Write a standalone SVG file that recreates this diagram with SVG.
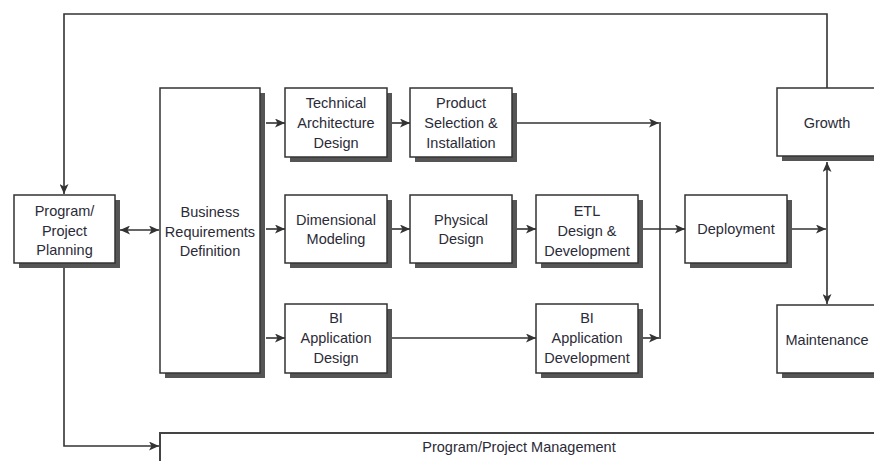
<svg xmlns="http://www.w3.org/2000/svg" width="874" height="461" viewBox="0 0 874 461">
<style>
.box{fill:#fff;stroke:#333;stroke-width:1.5}
.sh{fill:#555}
.t{font-family:"Liberation Sans",Arial,sans-serif;font-size:14.5px;fill:#2b2b38;text-anchor:middle}
.c{fill:none;stroke:#333;stroke-width:1.6}
</style>
<defs>
<marker id="ah" markerUnits="userSpaceOnUse" markerWidth="11" markerHeight="9" refX="10" refY="4.5" orient="auto-start-reverse">
<path d="M0,0 L10,4.5 L0,9 L2.5,4.5 z" fill="#333"/>
</marker>
</defs>
<rect width="874" height="461" fill="#fff"/>
<g id="connectors">
<path class="c" d="M827,88 V14 H64 V194" marker-end="url(#ah)"/>
<path class="c" d="M64,267 V446 H159" marker-end="url(#ah)"/>
<path class="c" d="M120,230 H159" marker-start="url(#ah)" marker-end="url(#ah)"/>
<path class="c" d="M266,123 H285" marker-end="url(#ah)"/>
<path class="c" d="M266,229 H285" marker-end="url(#ah)"/>
<path class="c" d="M266,338 H285" marker-end="url(#ah)"/>
<path class="c" d="M392,123 H410" marker-end="url(#ah)"/>
<path class="c" d="M392,229 H410" marker-end="url(#ah)"/>
<path class="c" d="M517,229 H536" marker-end="url(#ah)"/>
<path class="c" d="M392,338 H536" marker-end="url(#ah)"/>
<path class="c" d="M517,123 H659" marker-end="url(#ah)"/>
<path class="c" d="M643,338 H659" marker-end="url(#ah)"/>
<path class="c" d="M660,122 V339"/>
<path class="c" d="M643,229 H685" marker-end="url(#ah)"/>
<path class="c" d="M792,229 H826" marker-end="url(#ah)"/>
<path class="c" d="M827,229 V162" marker-end="url(#ah)"/>
<path class="c" d="M827,229 V304" marker-end="url(#ah)"/>
</g>
<g id="planning">
<rect class="sh" x="19" y="200" width="101" height="68"/>
<rect class="box" x="14" y="195" width="101" height="68"/>
<text class="t" x="64.5" y="216">Program/</text>
<text class="t" x="64.5" y="236">Project</text>
<text class="t" x="64.5" y="255">Planning</text>
</g>
<g id="brd">
<rect class="sh" x="165" y="93" width="100" height="285"/>
<rect class="box" x="160" y="88" width="100" height="285"/>
<text class="t" x="210" y="217">Business</text>
<text class="t" x="210" y="237">Requirements</text>
<text class="t" x="210" y="256">Definition</text>
</g>
<g id="tech">
<rect class="sh" x="290" y="93" width="102" height="69"/>
<rect class="box" x="285" y="88" width="102" height="69"/>
<text class="t" x="336" y="108">Technical</text>
<text class="t" x="336" y="128">Architecture</text>
<text class="t" x="336" y="148">Design</text>
</g>
<g id="product">
<rect class="sh" x="415" y="93" width="102" height="69"/>
<rect class="box" x="410" y="88" width="102" height="69"/>
<text class="t" x="461" y="108">Product</text>
<text class="t" x="461" y="128">Selection &amp;</text>
<text class="t" x="461" y="148">Installation</text>
</g>
<g id="dimensional">
<rect class="sh" x="290" y="200" width="102" height="68"/>
<rect class="box" x="285" y="195" width="102" height="68"/>
<text class="t" x="336" y="225">Dimensional</text>
<text class="t" x="336" y="244">Modeling</text>
</g>
<g id="physical">
<rect class="sh" x="415" y="200" width="102" height="68"/>
<rect class="box" x="410" y="195" width="102" height="68"/>
<text class="t" x="461" y="225">Physical</text>
<text class="t" x="461" y="244">Design</text>
</g>
<g id="etl">
<rect class="sh" x="541" y="200" width="102" height="68"/>
<rect class="box" x="536" y="195" width="102" height="68"/>
<text class="t" x="587" y="216">ETL</text>
<text class="t" x="587" y="236">Design &amp;</text>
<text class="t" x="587" y="256">Development</text>
</g>
<g id="bidesign">
<rect class="sh" x="290" y="309" width="102" height="69"/>
<rect class="box" x="285" y="304" width="102" height="69"/>
<text class="t" x="336" y="323">BI</text>
<text class="t" x="336" y="343">Application</text>
<text class="t" x="336" y="363">Design</text>
</g>
<g id="bidev">
<rect class="sh" x="541" y="309" width="102" height="69"/>
<rect class="box" x="536" y="304" width="102" height="69"/>
<text class="t" x="587" y="323">BI</text>
<text class="t" x="587" y="343">Application</text>
<text class="t" x="587" y="363">Development</text>
</g>
<g id="deployment">
<rect class="sh" x="690" y="200" width="102" height="68"/>
<rect class="box" x="685" y="195" width="102" height="68"/>
<text class="t" x="736" y="234">Deployment</text>
</g>
<g id="growth">
<rect class="sh" x="782" y="93" width="102" height="68"/>
<rect class="box" x="777" y="88" width="102" height="68"/>
<text class="t" x="827" y="128">Growth</text>
</g>
<g id="maintenance">
<rect class="sh" x="782" y="310" width="102" height="68"/>
<rect class="box" x="777" y="305" width="102" height="68"/>
<text class="t" x="827" y="345">Maintenance</text>
</g>
<g id="management">
<rect class="box" x="160" y="433" width="730" height="40" style="stroke:#444;stroke-width:2"/>
<text class="t" x="519" y="452">Program/Project Management</text>
</g>
</svg>
